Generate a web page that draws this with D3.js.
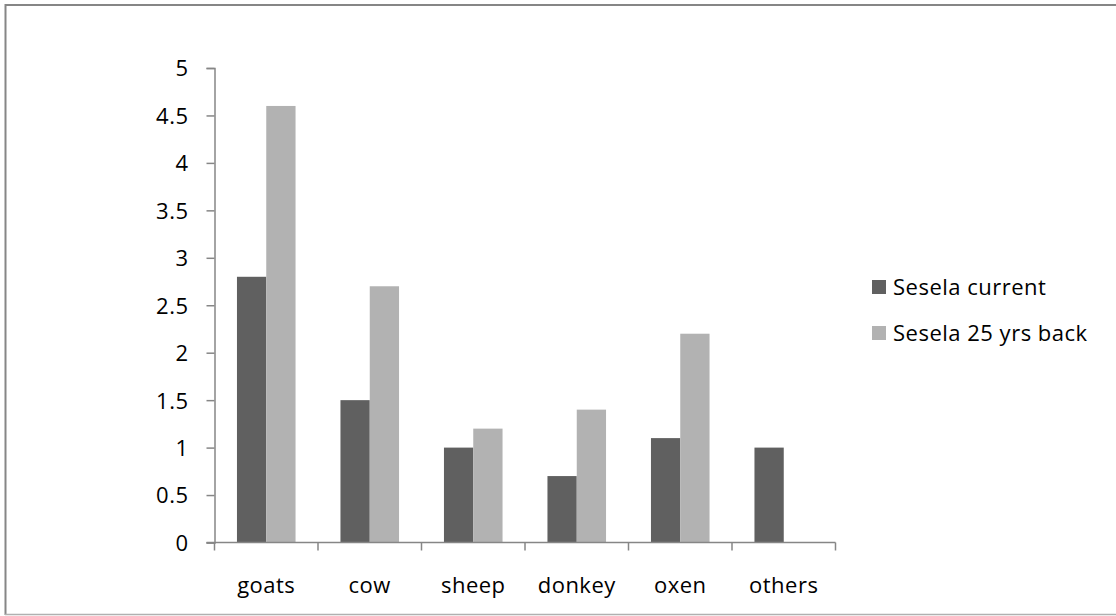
<!DOCTYPE html>
<html>
<head>
<meta charset="utf-8">
<script src="https://cdn.jsdelivr.net/npm/d3@7"></script>
<style>
  html, body { margin: 0; padding: 0; background: #ffffff; }
  svg { display: block; }
  text { font-family: "Open Sans", "Noto Sans", sans-serif; fill: #000; letter-spacing: 0.5px; }
</style>
</head>
<body>
<svg id="chart" width="1116" height="616"></svg>
<script>
// Livestock counts per household, Sesela
const categories = ["goats", "cow", "sheep", "donkey", "oxen", "others"];
const seriesNames = ["Sesela current", "Sesela 25 yrs back"];
const current = [2.8, 1.5, 1.0, 0.7, 1.1, 1.0];
const yearsBack = [4.6, 2.7, 1.2, 1.4, 2.2, null];
const yTicks = [0, 0.5, 1, 1.5, 2, 2.5, 3, 3.5, 4, 4.5, 5];
const colors = ["#606060", "#b2b2b2"];
const FONT = "'Open Sans', 'Noto Sans', sans-serif";
const FONT_SIZE = 22;

const svg = d3.select("#chart");

// outer chart frame
svg.append("line").attr("x1", 5).attr("x2", 1116).attr("y1", 5).attr("y2", 5)
  .attr("stroke", "#868686").attr("stroke-width", 2);
svg.append("line").attr("x1", 5.5).attr("x2", 5.5).attr("y1", 4).attr("y2", 615)
  .attr("stroke", "#868686").attr("stroke-width", 2);
svg.append("line").attr("x1", 5).attr("x2", 1116).attr("y1", 614.5).attr("y2", 614.5)
  .attr("stroke", "#b0b0b0").attr("stroke-width", 1.5);

const plot = { left: 214.5, right: 835.5, top: 68, bottom: 542.5 };

const x0 = d3.scaleBand().domain(categories)
  .range([plot.left, plot.right]).paddingInner(0.434).paddingOuter(0.217);
const x1 = d3.scaleBand().domain([0, 1]).range([0, x0.bandwidth()]);
const y = d3.scaleLinear().domain([0, 5]).range([plot.bottom, plot.top]);

const rows = categories.map((c, i) => ({ cat: c, vals: [current[i], yearsBack[i]] }));

// bars
const groups = svg.append("g").selectAll("g").data(rows).join("g")
  .attr("transform", d => `translate(${x0(d.cat)},0)`);
groups.selectAll("rect")
  .data(d => d.vals.map((v, k) => ({ v, k })).filter(e => e.v != null))
  .join("rect")
  .attr("x", e => x1(e.k))
  .attr("width", x1.bandwidth())
  .attr("y", e => y(e.v))
  .attr("height", e => plot.bottom - y(e.v))
  .attr("fill", e => colors[e.k]);

// y axis
const yAxis = svg.append("g").attr("transform", `translate(${plot.left},0)`)
  .call(d3.axisLeft(y).tickValues(yTicks).tickSize(8).tickPadding(18)
    .tickFormat(d3.format("")));
yAxis.select(".domain").attr("stroke", "#868686").attr("stroke-width", 1.5);
yAxis.selectAll(".tick line").attr("stroke", "#868686").attr("stroke-width", 1.5);
yAxis.selectAll("text").attr("font-size", FONT_SIZE).attr("font-family", FONT)
  .attr("fill", "#000").attr("dy", "0.36em");

// x axis: tick marks sit on category boundaries
const xAxisG = svg.append("g").attr("transform", `translate(0,${plot.bottom})`);
xAxisG.append("line").attr("x1", plot.left - 8).attr("x2", plot.right)
  .attr("stroke", "#868686").attr("stroke-width", 1.5);
const boundaries = categories.map(c => x0(c) - x0.step() * x0.paddingInner() / 2);
boundaries.push(plot.right);
xAxisG.selectAll("line.tk").data(boundaries).join("line").attr("class", "tk")
  .attr("x1", d => d).attr("x2", d => d).attr("y1", 0).attr("y2", 8)
  .attr("stroke", "#868686").attr("stroke-width", 1.5);
xAxisG.selectAll("text").data(categories).join("text")
  .attr("x", c => x0(c) + x0.bandwidth() / 2)
  .attr("y", 50)
  .attr("text-anchor", "middle")
  .attr("font-size", FONT_SIZE)
  .text(c => c);

// legend
const legend = svg.append("g").attr("transform", "translate(872,0)");
const items = legend.selectAll("g").data(seriesNames).join("g")
  .attr("transform", (d, i) => `translate(0,${287 + i * 46})`);
items.append("rect").attr("x", 0).attr("y", -7).attr("width", 14).attr("height", 14)
  .attr("fill", (d, i) => colors[i]);
items.append("text").attr("x", 21).attr("y", 0).attr("dy", "0.36em")
  .attr("font-size", FONT_SIZE).text(d => d);
</script>
</body>
</html>
